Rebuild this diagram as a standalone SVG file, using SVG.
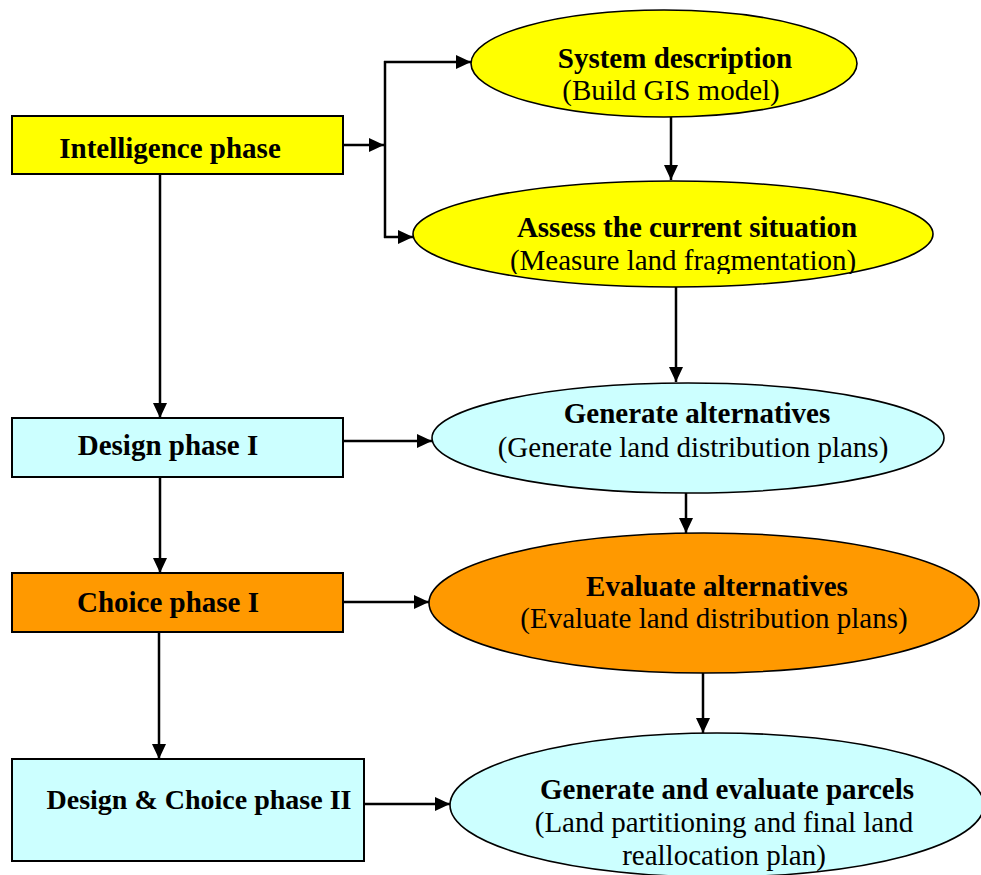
<svg xmlns="http://www.w3.org/2000/svg" width="981" height="875" viewBox="0 0 981 875">
  <defs>
    <marker id="arrow" markerUnits="userSpaceOnUse" markerWidth="16" markerHeight="14" refX="15" refY="7" orient="auto">
      <path d="M0,0 L15,7 L0,14 z" fill="#000"/>
    </marker>
    <clipPath id="clip-assess">
      <rect x="400" y="180" width="560" height="94"/>
    </clipPath>
    <style>
      .box { stroke: #000; stroke-width: 2; }
      .oval { stroke: #000; stroke-width: 1.6; }
      .yellow { fill: #FFFF00; }
      .cyan { fill: #CCFFFF; }
      .orange { fill: #FF9900; }
      .title { font-family: "Liberation Serif", "Times New Roman", serif; font-weight: bold; font-size: 29px; fill: #000; text-anchor: middle; }
      .sub { font-family: "Liberation Serif", "Times New Roman", serif; font-size: 29px; fill: #000; text-anchor: middle; }
      .conn { fill: none; stroke: #000; stroke-width: 2.5; }
    </style>
  </defs>
  <rect width="981" height="875" fill="#fff"/>

  <!-- Phase boxes -->
  <g id="intelligence-phase">
    <rect class="box yellow" x="12" y="116" width="331" height="58"/>
    <text class="title" x="170" y="158">Intelligence phase</text>
  </g>
  <g id="design-phase-1">
    <rect class="box cyan" x="12" y="418" width="331" height="59"/>
    <text class="title" x="168" y="455">Design phase I</text>
  </g>
  <g id="choice-phase-1">
    <rect class="box orange" x="12" y="573" width="331" height="59"/>
    <text class="title" x="168" y="612">Choice phase I</text>
  </g>
  <g id="design-choice-phase-2">
    <rect class="box cyan" x="12" y="759" width="352" height="102"/>
    <text class="title" x="199" y="809" style="font-size:28px">Design &amp; Choice phase II</text>
  </g>

  <!-- Activity ellipses -->
  <g id="system-description">
    <ellipse class="oval yellow" cx="664" cy="63.5" rx="193" ry="53.5"/>
    <text class="title" x="675" y="68">System description</text>
    <text class="sub" x="671" y="100">(Build GIS model)</text>
  </g>
  <g id="assess-situation">
    <ellipse class="oval yellow" cx="673" cy="234" rx="260" ry="53"/>
    <text class="title" x="687" y="237">Assess the current situation</text>
    <text class="sub" x="683" y="270" clip-path="url(#clip-assess)">(Measure land fragmentation)</text>
  </g>
  <g id="generate-alternatives">
    <ellipse class="oval cyan" cx="688" cy="438" rx="256" ry="55"/>
    <text class="title" x="697" y="423">Generate alternatives</text>
    <text class="sub" x="693" y="457">(Generate land distribution plans)</text>
  </g>
  <g id="evaluate-alternatives">
    <ellipse class="oval orange" cx="704" cy="603" rx="275" ry="70"/>
    <text class="title" x="717" y="596">Evaluate alternatives</text>
    <text class="sub" x="714" y="628">(Evaluate land distribution plans)</text>
  </g>
  <g id="generate-evaluate-parcels">
    <ellipse class="oval cyan" cx="717" cy="805" rx="267" ry="72"/>
    <text class="title" x="727" y="799">Generate and evaluate parcels</text>
    <text class="sub" x="724" y="832">(Land partitioning and final land</text>
    <text class="sub" x="724" y="865">reallocation plan)</text>
  </g>

  <!-- Connectors -->
  <g id="connectors">
    <line class="conn" x1="343" y1="145" x2="384" y2="145" marker-end="url(#arrow)"/>
    <line class="conn" x1="385" y1="61" x2="385" y2="238"/>
    <line class="conn" x1="384" y1="62" x2="471" y2="62" marker-end="url(#arrow)"/>
    <line class="conn" x1="384" y1="237" x2="413" y2="237" marker-end="url(#arrow)"/>
    <line class="conn" x1="671" y1="117" x2="671" y2="180" marker-end="url(#arrow)"/>
    <line class="conn" x1="676" y1="287" x2="676" y2="382" marker-end="url(#arrow)"/>
    <line class="conn" x1="686" y1="493" x2="686" y2="533" marker-end="url(#arrow)"/>
    <line class="conn" x1="703" y1="673" x2="703" y2="733" marker-end="url(#arrow)"/>
    <line class="conn" x1="160" y1="174" x2="160" y2="418" marker-end="url(#arrow)"/>
    <line class="conn" x1="160" y1="477" x2="160" y2="573" marker-end="url(#arrow)"/>
    <line class="conn" x1="159" y1="632" x2="159" y2="759" marker-end="url(#arrow)"/>
    <line class="conn" x1="343" y1="441" x2="432" y2="441" marker-end="url(#arrow)"/>
    <line class="conn" x1="343" y1="602" x2="429" y2="602" marker-end="url(#arrow)"/>
    <line class="conn" x1="364" y1="804" x2="450" y2="804" marker-end="url(#arrow)"/>
  </g>
</svg>
